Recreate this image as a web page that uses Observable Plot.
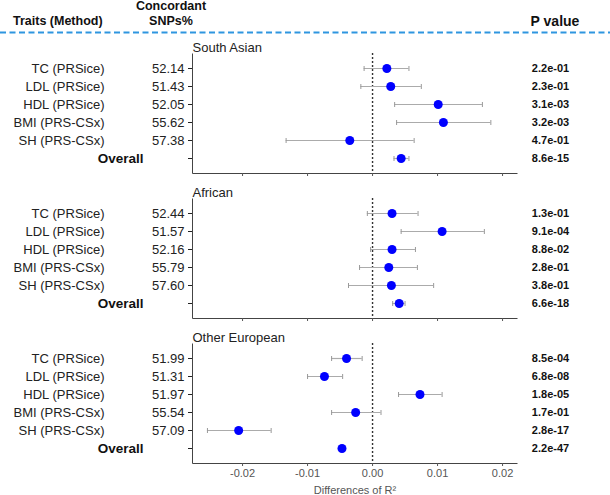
<!DOCTYPE html>
<html>
<head>
<meta charset="utf-8">
<script src="https://cdn.jsdelivr.net/npm/d3@7"></script>
<script src="https://cdn.jsdelivr.net/npm/@observablehq/plot@0.6"></script>
<style>
  body { margin: 0; background: #fff; font-family: "Liberation Sans", Arial, sans-serif; }
  #wrap { position: relative; width: 610px; }
  #header { position: relative; width: 610px; height: 34px; }
  .h { position: absolute; font-weight: bold; color: #111; white-space: nowrap; line-height: 1; }
  svg { display: block; }
</style>
</head>
<body>
<div id="wrap">
  <div id="header">
    <div class="h" style="left:13px; top:15px; font-size:12.5px;">Traits (Method)</div>
    <div class="h" style="left:171px; top:0px; font-size:12.5px; transform:translateX(-50%);">Concordant</div>
    <div class="h" style="left:171px; top:15px; font-size:12.5px; transform:translateX(-50%);">SNPs%</div>
    <div class="h" style="left:555px; top:14px; font-size:14px; transform:translateX(-50%);">P value</div>
    <svg width="610" height="34" style="position:absolute;left:0;top:0;">
      <line x1="0" x2="610" y1="32.5" y2="32.5" stroke="#2E96E0" stroke-width="2" stroke-dasharray="6 3.5"></line>
    </svg>
  </div>
  <div id="panels"></div>
</div>
<script>
// ---- data ----
const traits = ["TC (PRSice)", "LDL (PRSice)", "HDL (PRSice)", "BMI (PRS-CSx)", "SH (PRS-CSx)", "Overall"];
const xTicks = [-0.02, -0.01, 0, 0.01, 0.02];

const titleSA = "South Asian";
const snpsSA = [52.14, 51.43, 52.05, 55.62, 57.38];
const estSA = [0.0022, 0.0028, 0.0101, 0.0109, -0.0035, 0.0044];
const loSA  = [-0.0013, -0.0018, 0.0034, 0.0037, -0.0133, 0.0033];
const hiSA  = [0.0056, 0.0075, 0.0169, 0.0182, 0.0064, 0.0056];
const pSA   = ["2.2e-01", "2.3e-01", "3.1e-03", "3.2e-03", "4.7e-01", "8.6e-15"];

const titleAF = "African";
const snpsAF = [52.44, 51.57, 52.16, 55.79, 57.60];
const estAF = [0.0030, 0.0107, 0.0030, 0.0025, 0.0029, 0.0041];
const loAF  = [-0.0008, 0.0044, -0.0003, -0.0020, -0.0037, 0.0031];
const hiAF  = [0.0070, 0.0172, 0.0066, 0.0069, 0.0094, 0.0050];
const pAF   = ["1.3e-01", "9.1e-04", "8.8e-02", "2.8e-01", "3.8e-01", "6.6e-18"];

const titleEU = "Other European";
const snpsEU = [51.99, 51.31, 51.97, 55.54, 57.09];
const estEU = [-0.0040, -0.0074, 0.0073, -0.0026, -0.0206, -0.0047];
const loEU  = [-0.0063, -0.0100, 0.0040, -0.0063, -0.0254, -0.0050];
const hiEU  = [-0.0016, -0.0046, 0.0107, 0.0013, -0.0156, -0.0044];
const pEU   = ["8.5e-04", "6.8e-08", "1.8e-05", "1.7e-01", "2.8e-17", "2.2e-47"];

// ---- drawing ----
const FONT = "'Liberation Sans', Arial, sans-serif";
const vbar = {
  draw(context, size) {
    const r = Math.sqrt(size / Math.PI);
    context.moveTo(0, -r);
    context.lineTo(0, r);
  }
};

function panel(title, snps, est, lo, hi, p, bottomAxis) {
  const rows = traits.map((t, i) => ({trait: t, est: est[i], lo: lo[i], hi: hi[i], p: p[i]}));
  const snpOf = new Map(traits.map((t, i) => [t, i < snps.length ? snps[i].toFixed(2) : ""]));
  const W = 610, ML = 192, MR = 93, MT = 19, PH = 120;
  const MB = bottomAxis ? 32 : 6;
  const fw = W - ML - MR;
  return Plot.plot({
    width: W,
    height: MT + PH + MB,
    marginLeft: ML, marginRight: MR, marginTop: MT, marginBottom: MB,
    style: {fontFamily: FONT, background: "white", overflow: "visible"},
    x: {domain: [-0.0277, 0.0223], label: null},
    y: {type: "point", domain: traits, padding: 0.66, label: null},
    marks: [
      Plot.frame({stroke: "#444", strokeWidth: 1, strokeDasharray: `0 ${fw + PH} ${fw + PH}`}),
      Plot.ruleX([0], {stroke: "#333", strokeWidth: 1.4, strokeDasharray: "2 2"}),
      Plot.ruleY(rows, {y: "trait", x1: "lo", x2: "hi", stroke: "#ababab", strokeWidth: 1.2}),
      Plot.dot(rows, {x: "lo", y: "trait", symbol: vbar, r: 2.5, stroke: "#999", strokeWidth: 1}),
      Plot.dot(rows, {x: "hi", y: "trait", symbol: vbar, r: 2.5, stroke: "#999", strokeWidth: 1}),
      Plot.dot(rows, {x: "est", y: "trait", r: 4.5, fill: "#0000ff", stroke: null}),
      Plot.axisY({tickSize: 4, tickPadding: 4, tickFormat: t => snpOf.get(t), fontSize: 13, color: "#222", label: null}),
      Plot.axisX({
        ticks: xTicks, tickSize: 3, tickPadding: 3, color: "#555", fontSize: 11,
        tickFormat: bottomAxis ? (d => d.toFixed(2)) : (() => ""),
        label: bottomAxis ? "Differences of R²" : null,
        labelAnchor: "center", labelOffset: 30, labelArrow: "none"
      }),
      Plot.text(rows.filter(d => d.trait !== "Overall"), {y: "trait", text: "trait", frameAnchor: "left", dx: -88, textAnchor: "end", fontSize: 13, fill: "#222"}),
      Plot.text(rows.filter(d => d.trait === "Overall"), {y: "trait", text: "trait", frameAnchor: "left", dx: -49, textAnchor: "end", fontSize: 13.5, fontWeight: "bold", fill: "#111"}),
      Plot.text(rows, {y: "trait", text: "p", frameAnchor: "right", dx: 33, textAnchor: "middle", fontSize: 11, fontWeight: "bold", fill: "#111"}),
      Plot.text([title], {text: d => d, frameAnchor: "top-left", dy: -11, textAnchor: "start", fontSize: 13, fill: "#222"})
    ]
  });
}

const host = document.getElementById("panels");
host.append(panel(titleSA, snpsSA, estSA, loSA, hiSA, pSA, false));
host.append(panel(titleAF, snpsAF, estAF, loAF, hiAF, pAF, false));
host.append(panel(titleEU, snpsEU, estEU, loEU, hiEU, pEU, true));
</script>
</body>
</html>
